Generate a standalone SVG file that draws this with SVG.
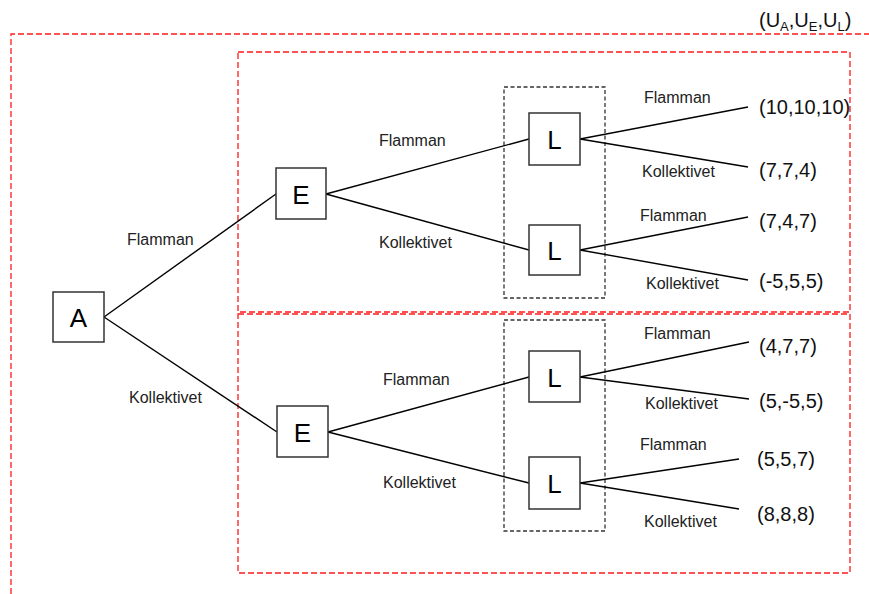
<svg xmlns="http://www.w3.org/2000/svg" width="869" height="594" viewBox="0 0 869 594">
<style>
.bg{fill:#ffffff}
.red{fill:none;stroke:#ff1a1a;stroke-width:1.3;stroke-dasharray:6 3}
.info{fill:none;stroke:#333333;stroke-width:1.3;stroke-dasharray:4 2.5}
.box{fill:#ffffff;stroke:#333333;stroke-width:1.5}
.lbl{font-family:"Liberation Sans",Arial,sans-serif;font-size:26px;fill:#000;text-anchor:middle}
.edge{stroke:#000;stroke-width:1.4;fill:none}
.el{font-family:"Liberation Sans",Arial,sans-serif;font-size:16px;fill:#222}
.pay{font-family:"Liberation Sans",Arial,sans-serif;font-size:20px;fill:#111}
.sub{font-size:13px}
</style>
<rect class="bg" x="0" y="0" width="869" height="594"/>
<g id="subgames">
<path class="red" d="M11,594 V34 H869"/>
<rect class="red" x="238" y="52" width="612" height="260"/>
<rect class="red" x="238" y="314" width="612" height="259"/>
</g>
<g id="infosets">
<rect class="info" x="504" y="87" width="101" height="211"/>
<rect class="info" x="504" y="320" width="101" height="211"/>
</g>
<text class="pay" x="759" y="27">(U<tspan class="sub" dy="4">A</tspan><tspan dy="-4">,U</tspan><tspan class="sub" dy="4">E</tspan><tspan dy="-4">,U</tspan><tspan class="sub" dy="4">L</tspan><tspan dy="-4">)</tspan></text>
<g id="connectors">
<line class="edge" x1="104" y1="317" x2="276" y2="194"/>
<line class="edge" x1="104" y1="317" x2="277" y2="432"/>
<line class="edge" x1="326" y1="194" x2="529" y2="139"/>
<line class="edge" x1="326" y1="194" x2="529" y2="250"/>
<line class="edge" x1="328" y1="432" x2="529" y2="377"/>
<line class="edge" x1="328" y1="432" x2="529" y2="483"/>
<line class="edge" x1="580" y1="139" x2="748" y2="107"/>
<line class="edge" x1="580" y1="139" x2="748" y2="167"/>
<line class="edge" x1="580" y1="250" x2="748" y2="217"/>
<line class="edge" x1="580" y1="250" x2="748" y2="280"/>
<line class="edge" x1="580" y1="377" x2="749" y2="342"/>
<line class="edge" x1="580" y1="377" x2="749" y2="399"/>
<line class="edge" x1="580" y1="483" x2="739" y2="459"/>
<line class="edge" x1="580" y1="483" x2="739" y2="509"/>
<text class="el" x="127" y="245">Flamman</text>
<text class="el" x="129" y="403">Kollektivet</text>
<text class="el" x="379" y="146">Flamman</text>
<text class="el" x="379" y="248">Kollektivet</text>
<text class="el" x="383" y="385">Flamman</text>
<text class="el" x="383" y="488">Kollektivet</text>
<text class="el" x="644" y="103">Flamman</text>
<text class="el" x="642" y="177">Kollektivet</text>
<text class="el" x="640" y="221">Flamman</text>
<text class="el" x="646" y="289">Kollektivet</text>
<text class="el" x="644" y="339">Flamman</text>
<text class="el" x="645" y="409">Kollektivet</text>
<text class="el" x="640" y="450">Flamman</text>
<text class="el" x="644" y="527">Kollektivet</text>
</g>
<g id="node-A"><rect class="box" x="53" y="292" width="51" height="50"/><text class="lbl" x="78.5" y="326.5">A</text></g>
<g id="node-E1"><rect class="box" x="276" y="168" width="50" height="51"/><text class="lbl" x="301" y="203.5">E</text></g>
<g id="node-E2"><rect class="box" x="277" y="406" width="51" height="51"/><text class="lbl" x="302.5" y="441.5">E</text></g>
<g id="node-L1"><rect class="box" x="529" y="113" width="51" height="52"/><text class="lbl" x="554.5" y="148.5">L</text></g>
<g id="node-L2"><rect class="box" x="529" y="225" width="51" height="50"/><text class="lbl" x="554.5" y="259.5">L</text></g>
<g id="node-L3"><rect class="box" x="529" y="351" width="51" height="51"/><text class="lbl" x="554.5" y="386.5">L</text></g>
<g id="node-L4"><rect class="box" x="529" y="457" width="51" height="52"/><text class="lbl" x="554.5" y="492.5">L</text></g>
<g id="payoffs">
<text class="pay" x="759" y="114">(10,10,10)</text>
<text class="pay" x="759" y="177">(7,7,4)</text>
<text class="pay" x="759" y="228">(7,4,7)</text>
<text class="pay" x="759" y="288">(-5,5,5)</text>
<text class="pay" x="759" y="353">(4,7,7)</text>
<text class="pay" x="759" y="408">(5,-5,5)</text>
<text class="pay" x="757" y="466">(5,5,7)</text>
<text class="pay" x="757" y="521">(8,8,8)</text>
</g>
</svg>
